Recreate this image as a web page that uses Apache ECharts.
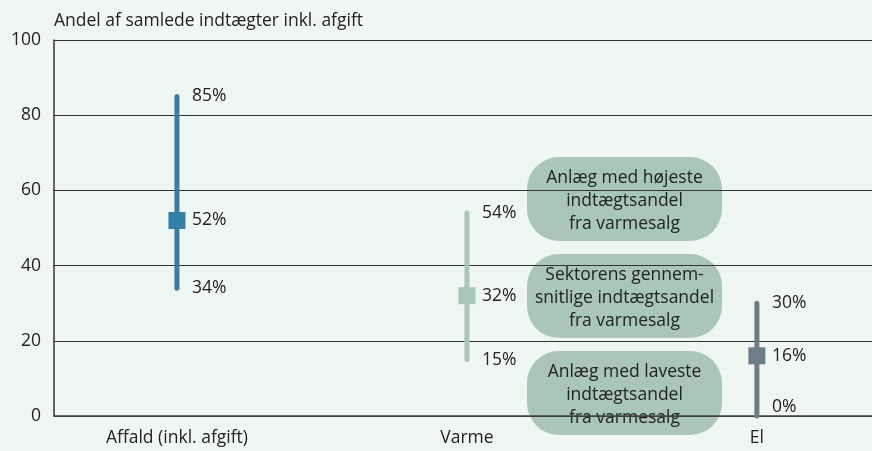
<!DOCTYPE html>
<html>
<head>
<meta charset="utf-8">
<script src="https://cdn.jsdelivr.net/npm/echarts@6/dist/echarts.min.js"></script>
<style>
  html, body { margin: 0; padding: 0; background: #eff7f3; }
  #chart { width: 872px; height: 451px; }
</style>
</head>
<body>
<div id="chart"></div>
<script>
// categories and their positions on the (hidden) value x axis
const categories = ['Affald (inkl. afgift)', 'Varme', 'El'];
const catPos = [0, 1, 2];
// lowest, average and highest share (%)
const lowVals = [34, 15, 0];
const avgVals = [52, 32, 16];
const highVals = [85, 54, 30];
const colors = ['#337fa8', '#a8c7b6', '#6c7d88'];
const yTicks = [0, 20, 40, 60, 80, 100];
const notes = [
  'Anlæg med højeste\nindtægtsandel\nfra varmesalg',
  'Sektorens gennem-\nsnitlige indtægtsandel\nfra varmesalg',
  'Anlæg med laveste\nindtægtsandel\nfra varmesalg'
];

const font = '"Open Sans", "Noto Sans", sans-serif';
const dom = document.getElementById('chart');
const myChart = echarts.init(dom);

const rows = categories.map(function (c, i) {
  return [catPos[i], lowVals[i], avgVals[i], highVals[i]];
});

function renderItem(params, api) {
  const i = params.dataIndex;
  const x = api.value(0);
  const pLow = api.coord([x, api.value(1)]);
  const pAvg = api.coord([x, api.value(2)]);
  const pHigh = api.coord([x, api.value(3)]);
  const col = colors[i];
  const lab = function (p, v) {
    // keep a 0% label clear of the axis line
    const dy = v === 0 ? -9 : 0;
    return {
      type: 'text',
      style: {
        x: p[0] + 15, y: p[1] + dy, text: v + '%',
        font: '17.5px ' + font, fill: '#222',
        textAlign: 'left', textVerticalAlign: 'middle'
      }
    };
  };
  return {
    type: 'group',
    children: [
      { type: 'line', shape: { x1: pLow[0], y1: pLow[1], x2: pHigh[0], y2: pHigh[1] },
        style: { stroke: col, lineWidth: 5, lineCap: 'round' } },
      { type: 'rect', shape: { x: pAvg[0] - 8.5, y: pAvg[1] - 8.5, width: 17, height: 17 },
        style: { fill: col } },
      lab(pHigh, api.value(3)),
      lab(pAvg, api.value(2)),
      lab(pLow, api.value(1))
    ]
  };
}

// note bubbles on the right of Varme
const boxTops = [157, 254, 351];
const bubbles = notes.map(function (t, i) {
  return {
    type: 'group',
    left: 527, top: boxTops[i],
    children: [
      { type: 'rect', shape: { x: 0, y: 0, width: 195, height: 84, r: 32 },
        style: { fill: '#a9c6b6' } },
      { type: 'text', x: 97.5, y: 44,
        style: { text: t, font: '17.5px ' + font, fill: '#222', align: 'center',
          verticalAlign: 'middle', lineHeight: 23 } }
    ]
  };
});

const option = {
  backgroundColor: '#eff7f3',
  animation: false,
  textStyle: { fontFamily: font },
  grid: { left: 54, right: 0, top: 40, bottom: 35 },
  xAxis: {
    type: 'value',
    min: -0.424,
    max: 2.397,
    splitLine: { show: false },
    axisLine: { show: true, onZero: false, lineStyle: { color: '#444', width: 1.5 } },
    axisTick: { show: false },
    axisLabel: {
      customValues: catPos,
      formatter: function (v) { return categories[Math.round(v)]; },
      color: '#222', fontSize: 17.5, margin: 13, fontFamily: font
    }
  },
  yAxis: {
    type: 'value',
    min: 0, max: 100, interval: 20,
    name: 'Andel af samlede indtægter inkl. afgift',
    nameLocation: 'end',
    nameGap: 10,
    nameTextStyle: { align: 'left', color: '#222', fontSize: 17.5, fontFamily: font },
    axisLine: { show: true, onZero: false, lineStyle: { color: '#333', width: 1.5 } },
    axisTick: { show: false },
    axisLabel: {
      color: '#222', fontSize: 17.5, margin: 13, fontFamily: font,
      formatter: function (v) { return yTicks.indexOf(v) >= 0 ? String(v) : ''; }
    },
    splitLine: { show: true, lineStyle: { color: '#333', width: 1.2 } }
  },
  series: [{
    type: 'custom',
    renderItem: renderItem,
    encode: { x: 0, y: [1, 2, 3] },
    data: rows,
    z: 3
  }],
  graphic: { elements: bubbles }
};

myChart.setOption(option);
</script>
</body>
</html>
